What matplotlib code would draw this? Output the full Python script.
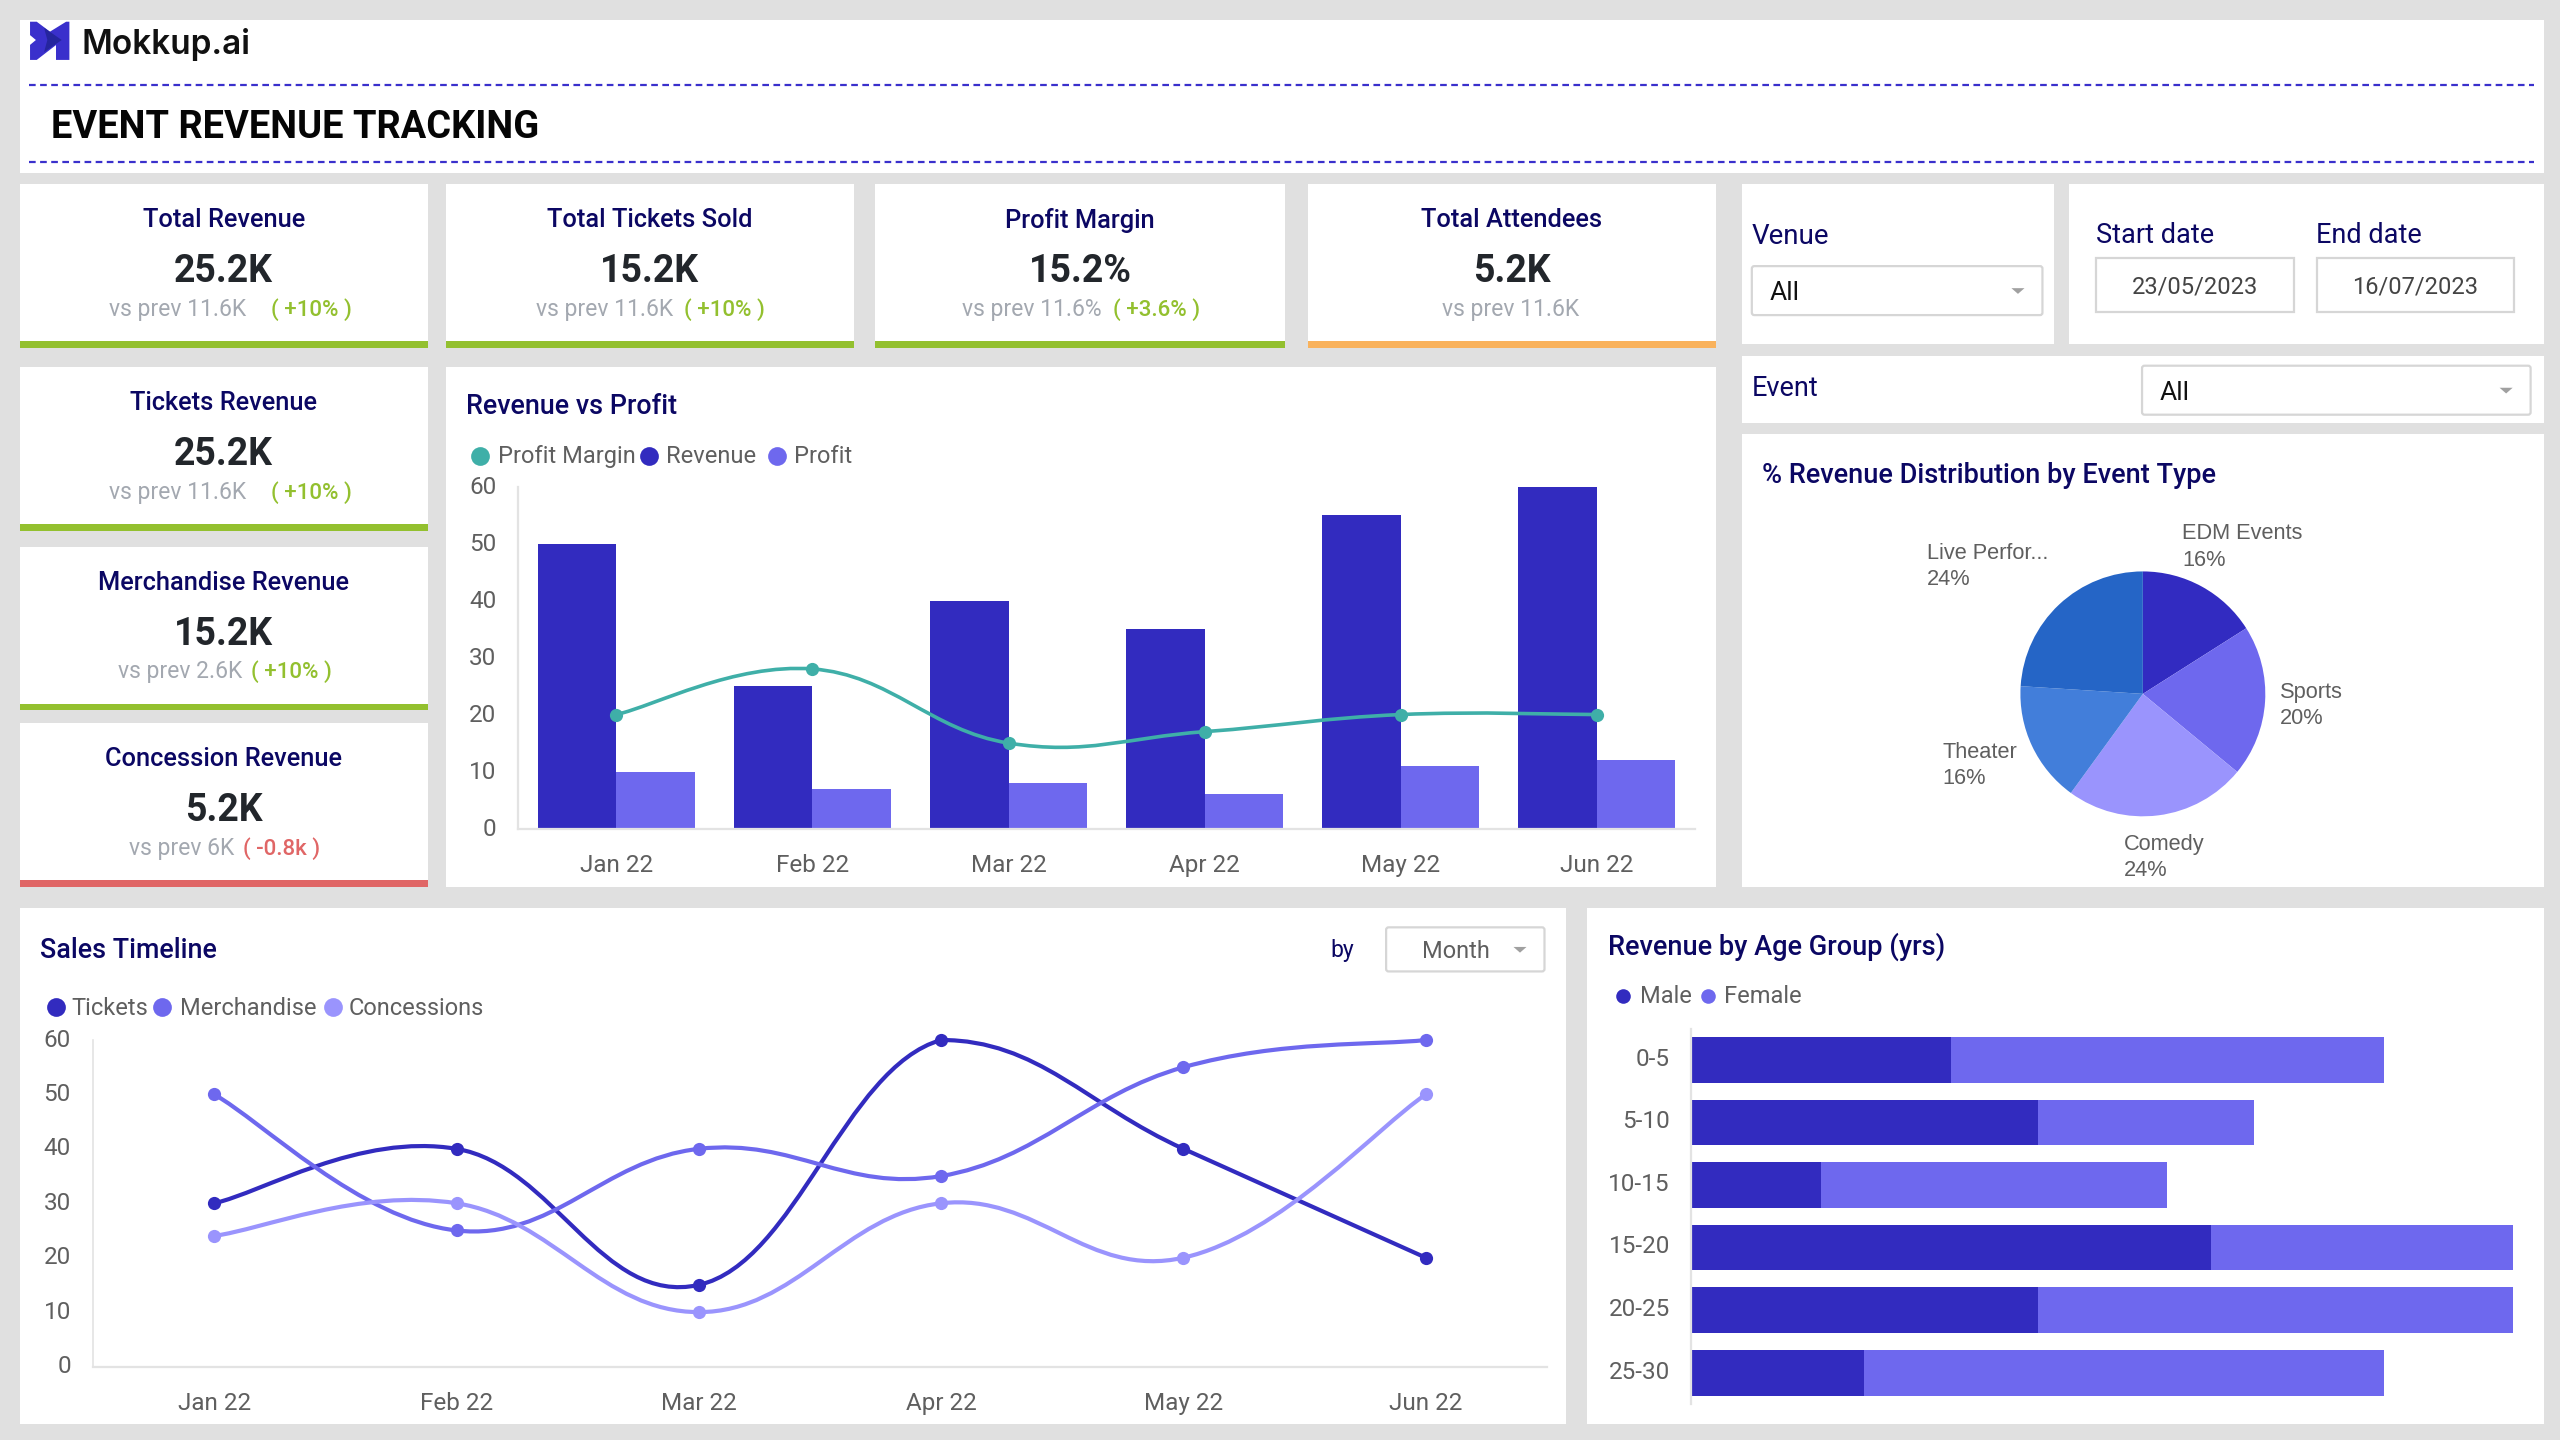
import matplotlib
matplotlib.use('Agg')
import matplotlib.pyplot as plt
from matplotlib.patches import Rectangle, Polygon, FancyBboxPatch, PathPatch
from matplotlib.path import Path
from matplotlib.transforms import ScaledTranslation
import numpy as np

plt.rcParams['font.family'] = ['Roboto', 'DejaVu Sans']

W, H = 1568.0, 882.0

NAVY = '#0B0763'
DARK = '#322BBF'
MID = '#6E68EE'
LIGHT = '#9A94FD'
TEAL = '#3FAFA8'
GREEN = '#93C02F'
ORANGE = '#F9B25C'
RED = '#E06666'
GREY = '#5F5F5F'
SOFT = '#A3A8B0'

months = ['Jan 22', 'Feb 22', 'Mar 22', 'Apr 22', 'May 22', 'Jun 22']

revenue = [50, 25, 40, 35, 55, 60]
profit = [10, 7, 8, 6, 11, 12]
margin = [20, 28, 15, 17, 20, 20]

tickets = [30, 40, 15, 60, 40, 20]
merchandise = [50, 25, 40, 35, 55, 60]
concessions = [24, 30, 10, 30, 20, 50]

age_groups = ['0-5', '5-10', '10-15', '15-20', '20-25', '25-30']
male = [3, 4, 1.5, 6, 4, 2]
female = [5, 2.5, 4, 3.5, 5.5, 6]

event_types = ['EDM Events', 'Sports', 'Comedy', 'Theater', 'Live Perfor...']
event_share = [16, 20, 24, 16, 24]
pie_colors = ['#322BC1', '#6E68EE', '#9A94FD', '#427EDA', '#2565C6']

kpi_titles = ['Total Revenue', 'Total Tickets Sold', 'Profit Margin', 'Total Attendees',
              'Tickets Revenue', 'Merchandise Revenue', 'Concession Revenue']
kpi_values = ['25.2K', '15.2K', '15.2%', '5.2K', '25.2K', '15.2K', '5.2K']
kpi_prev = ['vs prev 11.6K', 'vs prev 11.6K', 'vs prev 11.6%', 'vs prev 11.6K',
            'vs prev 11.6K', 'vs prev 2.6K', 'vs prev 6K']
kpi_delta = ['( +10% )', '( +10% )', '( +3.6% )', '', '( +10% )', '( +10% )', '( -0.8k )']


def place(x0, y0, x1, y1):
    return fig.add_axes([x0 / W, 1 - y1 / H, (x1 - x0) / W, (y1 - y0) / H])


def panel(x0, y0, x1, y1):
    bg.add_patch(Rectangle((x0, y0), x1 - x0, y1 - y0, fc='white', ec='none', zorder=1))


def dropdown(x0, y0, x1, y1, label, size=19, color='#111111', inset=11):
    bg.add_patch(FancyBboxPatch((x0, y0), x1 - x0, y1 - y0, boxstyle='round,pad=0,rounding_size=1.5',
                                fc='white', ec='#D6D6D6', lw=1.6, zorder=2))
    bg.text(x0 + inset, (y0 + y1) / 2 + 1.5, label, fontsize=size, color=color, va='center', zorder=3)
    cx, cy = x1 - 15, (y0 + y1) / 2
    bg.add_patch(Polygon([(cx - 4, cy - 1.5), (cx + 4, cy - 1.5), (cx, cy + 2)], fc='#A0A0A0', ec='none', zorder=3))


def legend(y, items, ms=13.5):
    # items: label, colour, marker x, text x
    for label, color, mx, tx in items:
        bg.plot([mx], [y], 'o', ms=ms, color=color, mec='none', zorder=3)
        bg.text(tx, y + 0.5, label, fontsize=17, color=GREY, va='center', zorder=3)


def smooth(ax, ys, color, lw=3.0, k=0.2, ymax=60):
    pts = np.column_stack([np.arange(len(ys)), np.array(ys, float)])
    verts = [pts[0]]
    codes = [Path.MOVETO]
    for i in range(len(pts) - 1):
        prev = pts[max(i - 1, 0)]
        nxt = pts[min(i + 2, len(pts) - 1)]
        c1 = pts[i] + (pts[i + 1] - prev) * k
        c2 = pts[i + 1] - (nxt - pts[i]) * k
        # keep the curve inside the plot area
        c1[1] = min(c1[1], ymax)
        c2[1] = min(c2[1], ymax)
        verts += [c1, c2, pts[i + 1]]
        codes += [Path.CURVE4] * 3
    ax.add_patch(PathPatch(Path(verts, codes), fc='none', ec=color, lw=lw, capstyle='round', zorder=4, clip_on=False))
    ax.plot(pts[:, 0], pts[:, 1], 'o', ms=9.5, color=color, mec='none', zorder=5, clip_on=False)


def nudge_labels(labels, dy):
    offset = ScaledTranslation(0, dy * 1.176 / 72, fig.dpi_scale_trans)
    for lab in labels:
        lab.set_transform(lab.get_transform() + offset)


def style_axis(ax, ymax=60, step=10, pad=16):
    for side in ['top', 'right']:
        ax.spines[side].set_visible(False)
    for side in ['left', 'bottom']:
        ax.spines[side].set_color('#E3E3E3')
        ax.spines[side].set_linewidth(1.6)
    ax.set_ylim(0, ymax)
    ax.set_yticks(range(0, ymax + 1, step))
    ax.tick_params(axis='both', length=0, labelsize=17.5, labelcolor=GREY)
    ax.tick_params(axis='y', pad=pad)
    ax.tick_params(axis='x', pad=18)
    ax.patch.set_alpha(0)


fig = plt.figure(figsize=(25.6, 14.4), dpi=100, facecolor='#E0E0E0')
bg = fig.add_axes([0, 0, 1, 1])
bg.set_xlim(0, W)
bg.set_ylim(H, 0)
bg.axis('off')

# header
panel(12, 12, 1558, 106)
for y in [52, 99]:
    bg.plot([18, 1552], [y, y], color='#3A30CC', lw=1.6, dashes=(3, 2), zorder=2)
bg.text(31, 78, 'EVENT REVENUE TRACKING', fontsize=27.4, fontweight='bold', color='#050505', va='center', zorder=3)
bg.add_patch(Polygon([(18.4, 13.3), (22.5, 13.3), (30.6, 19.4), (40.5, 13.3), (42.5, 13.3), (42.5, 36.7),
                      (34.3, 36.7), (34.3, 27.6), (22.5, 36.7), (18.4, 36.7), (18.4, 27.5), (22, 24.5), (18.4, 21.5)],
                     fc='#3A30CC', ec='none', zorder=3))
bg.add_patch(Polygon([(27, 17), (37.8, 24.5), (27, 32), (29, 24.5)], fc='#25259E', ec='none', zorder=4))
bg.text(50, 27, 'Mokkup.ai', fontsize=24, fontweight='semibold', family=['Inter', 'DejaVu Sans'],
        color='#111111', va='center', zorder=3)

# kpi cards
cards = [(12, 113, 262, 213), (273, 113, 523, 213), (536, 113, 787, 213), (801, 113, 1051, 213),
         (12, 225, 262, 325), (12, 335, 262, 435), (12, 443, 262, 543)]
bars = [GREEN, GREEN, GREEN, ORANGE, GREEN, GREEN, RED]
prev_x = [67, 328, 589, 883, 67, 72, 79]
delta_x = [166, 419, 682, 0, 166, 154, 149]
delta_c = [GREEN, GREEN, GREEN, GREEN, GREEN, GREEN, RED]
for i, (x0, y0, x1, y1) in enumerate(cards):
    panel(x0, y0, x1, y1)
    cx = (x0 + x1) / 2
    bg.add_patch(Rectangle((x0, y1 - 4), x1 - x0, 4, fc=bars[i], ec='none', zorder=2))
    bg.text(cx, y0 + 22, kpi_titles[i], fontsize=18.3, fontweight='medium', color=NAVY, ha='center', va='center', zorder=3)
    bg.text(cx, y0 + 53.5, kpi_values[i], fontsize=27, fontweight='bold', color='#22262B', ha='center', va='center', zorder=3)
    bg.text(prev_x[i], y0 + 76.5, kpi_prev[i], fontsize=16.5, color=SOFT, va='center', zorder=3)
    if kpi_delta[i]:
        bg.text(delta_x[i], y0 + 76.5, kpi_delta[i], fontsize=16, fontweight='medium', color=delta_c[i], va='center', zorder=3)

# filters
panel(1067, 113, 1258, 211)
panel(1267, 113, 1558, 211)
panel(1067, 218, 1558, 259)
bg.text(1073, 145, 'Venue', fontsize=20, color=NAVY, va='center', zorder=3)
dropdown(1073, 163, 1251, 193, 'All')
bg.text(1284, 144, 'Start date', fontsize=19.5, color=NAVY, va='center', zorder=3)
bg.text(1418.5, 144, 'End date', fontsize=19.5, color=NAVY, va='center', zorder=3)
for x0, x1, label in [(1284, 1405, '23/05/2023'), (1419, 1540, '16/07/2023')]:
    bg.add_patch(Rectangle((x0, 158), x1 - x0, 33, fc='white', ec='#D6D6D6', lw=1.6, zorder=2))
    bg.text((x0 + x1) / 2, 176, label, fontsize=17, color='#444444', ha='center', va='center', zorder=3)
bg.text(1073, 238, 'Event', fontsize=19.5, color=NAVY, va='center', zorder=3)
dropdown(1312, 224, 1550, 254, 'All')

# revenue vs profit
panel(273, 225, 1051, 543)
bg.text(285.5, 249, 'Revenue vs Profit', fontsize=19.4, fontweight='medium', color=NAVY, va='center', zorder=3)
legend(279, [('Profit Margin', TEAL, 294, 305), ('Revenue', DARK, 397.5, 408), ('Profit', MID, 476, 486.5)])
ax1 = place(317.5, 298, 1038, 507.5)
x = np.arange(len(months))
ax1.bar(x - 0.2, revenue, 0.4, color=DARK, zorder=2)
ax1.bar(x + 0.2, profit, 0.4, color=MID, zorder=2)
smooth(ax1, margin, TEAL, lw=2.6)
style_axis(ax1)
ax1.set_xlim(-0.5, 5.5)
ax1.set_xticks(x, months)
nudge_labels(ax1.get_yticklabels(), 1)

# pie
panel(1067, 266, 1558, 543)
bg.text(1079.5, 291, '% Revenue Distribution by Event Type', fontsize=19.5, fontweight='medium', color=NAVY, va='center', zorder=3)
ax2 = place(1237.5, 350, 1387.5, 500)
ax2.pie(event_share, colors=pie_colors, startangle=90, counterclock=False, radius=1.0)
ax2.set_xlim(-1, 1)
ax2.set_ylim(-1, 1)
label_x = [1336.5, 1396.5, 1301, 1189.5, 1180]
label_y = [327, 424, 517, 461, 339]
for i, name in enumerate(event_types):
    bg.text(label_x[i], label_y[i], name, fontsize=15.7, family=['Liberation Sans', 'DejaVu Sans'], color=GREY, va='center', zorder=3)
    bg.text(label_x[i], label_y[i] + 16, str(event_share[i]) + '%', fontsize=15.7, family=['Liberation Sans', 'DejaVu Sans'], color=GREY, va='center', zorder=3)

# sales timeline
panel(12, 556, 959, 872)
bg.text(24.5, 582, 'Sales Timeline', fontsize=19.4, fontweight='medium', color=NAVY, va='center', zorder=3)
bg.text(815, 582, 'by', fontsize=16.5, color=NAVY, va='center', zorder=3)
dropdown(849, 568, 946, 595, 'Month', size=17, color=GREY, inset=22)
legend(617, [('Tickets', DARK, 34, 44), ('Merchandise', MID, 99.5, 110), ('Concessions', LIGHT, 204, 213.5)])
ax3 = place(57, 637, 947.5, 837)
smooth(ax3, tickets, DARK)
smooth(ax3, merchandise, MID)
smooth(ax3, concessions, LIGHT)
style_axis(ax3)
ax3.spines['left'].set_linewidth(1.2)
ax3.set_xlim(-0.5, 5.5)
ax3.set_xticks(x, months)
nudge_labels(ax3.get_yticklabels(), 1.5)

# revenue by age
panel(972, 556, 1558, 872)
bg.text(985, 580, 'Revenue by Age Group (yrs)', fontsize=19.5, fontweight='medium', color=NAVY, va='center', zorder=3)
legend(610, [('Male', DARK, 994, 1004.5), ('Female', MID, 1046, 1056)], ms=10.5)
ax4 = place(1036, 630, 1540, 860)
y = np.arange(len(age_groups))
ax4.barh(y, male, 0.73, color=DARK, zorder=2)
ax4.barh(y, female, 0.73, left=male, color=MID, zorder=2)
for side in ['top', 'right', 'bottom']:
    ax4.spines[side].set_visible(False)
ax4.spines['left'].set_color('#E3E3E3')
ax4.spines['left'].set_linewidth(1.6)
ax4.set_xlim(0, 9.51)
ax4.set_ylim(5.5, -0.5)
ax4.set_xticks([])
ax4.set_yticks(y, age_groups)
ax4.tick_params(axis='y', length=0, labelsize=17.5, labelcolor=GREY, pad=15.5)
ax4.patch.set_alpha(0)
nudge_labels(ax4.get_yticklabels(), 2)

fig.savefig('out.png', dpi=100, facecolor=fig.get_facecolor())
